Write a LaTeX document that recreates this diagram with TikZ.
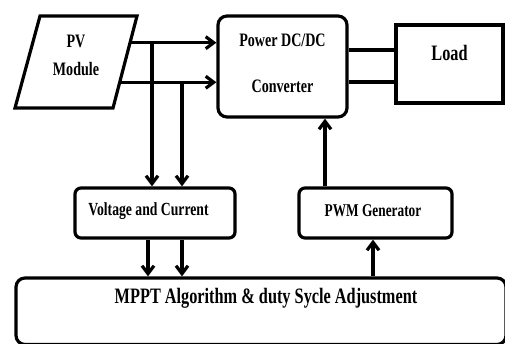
\documentclass[tikz,border=0pt]{standalone}
\usepackage{fontspec}
\setmainfont{Liberation Serif}[FakeStretch=0.74]
\usetikzlibrary{arrows.meta,calc}
\begin{document}
\begin{tikzpicture}[x=1pt,y=-1pt,line width=3.2pt,
  box/.style={draw,rounded corners=8pt,inner sep=0pt},
  sqbox/.style={draw,inner sep=0pt},
  fs/.style={font=\bfseries\fontsize{#1}{#1}\selectfont},
  arr/.style={-{Straight Barb[length=8pt,width=12pt]}}]
\useasboundingbox (0,0) rectangle (505,343);
\clip (0,0) rectangle (505,343);
% PV module (parallelogram)
\coordinate (pv1) at (40,16);
\coordinate (pv2) at (137,16);
\coordinate (pv3) at (113,108);
\coordinate (pv4) at (15,108);
\draw (pv1) -- (pv2) -- (pv3) -- (pv4) -- cycle;
\node[align=center,font=\bfseries\fontsize{19}{28}\selectfont] (pv) at (76,55) {PV\\Module};
% boxes
\node[box,rounded corners=9pt,minimum width=129pt,minimum height=101pt,
  label={[align=center,font=\bfseries\fontsize{19}{46}\selectfont,yshift=3.5pt]center:Power DC/DC\\Converter}] (conv) at (282.5,66.5) {};
\node[sqbox,minimum width=107pt,minimum height=78pt,
  label={[fs=22,yshift=11pt]center:Load}] (load) at (449.5,64) {};
\node[box,rounded corners=6pt,minimum width=160pt,minimum height=50pt,
  label={[fs=18.5,xshift=-6.5pt,yshift=2pt]center:Voltage and Current}] (vc) at (155,213) {};
\node[box,rounded corners=6pt,minimum width=153pt,minimum height=50pt,
  label={[fs=18,xshift=-2.5pt,yshift=2pt]center:PWM Generator}] (pwm) at (375.5,213) {};
\node[box,rounded corners=9pt,minimum width=490pt,minimum height=66.5pt,
  label={[fs=22,xshift=5pt,yshift=13.25pt]center:MPPT Algorithm \& duty Sycle Adjustment}] (mppt) at (261,311.25) {};
% PV to converter
\coordinate (a1) at ($(pv2)!0.29!(pv3)$);
\coordinate (a2) at ($(pv2)!0.72!(pv3)$);
\draw[arr] (a1) -- (a1 -| conv.west);
\draw[arr] (a2) -- (a2 -| conv.west);
% taps to voltage and current
\coordinate (j1) at (152,0 |- a1);
\coordinate (j2) at (182,0 |- a2);
\draw[arr] (j1) -- (j1 |- vc.north);
\draw[arr] (j2) -- (j2 |- vc.north);
% converter to load
\coordinate (c1) at (0,50);
\coordinate (c2) at (0,82);
\draw (c1 -| conv.east) -- (c1 -| load.west);
\draw (c2 -| conv.east) -- (c2 -| load.west);
% V&C to MPPT
\draw[arr] ([xshift=-7pt]vc.south) -- ([xshift=-7pt]vc.south |- mppt.north);
\draw[arr] ([xshift=27pt]vc.south) -- ([xshift=27pt]vc.south |- mppt.north);
% MPPT to PWM
\draw[arr] ([xshift=-2.5pt]pwm.south |- mppt.north) -- ([xshift=-2.5pt]pwm.south);
% PWM to converter
\draw[arr] ([xshift=-50.5pt]pwm.north) -- ([xshift=-50.5pt]pwm.north |- conv.south);
\end{tikzpicture}
\end{document}
